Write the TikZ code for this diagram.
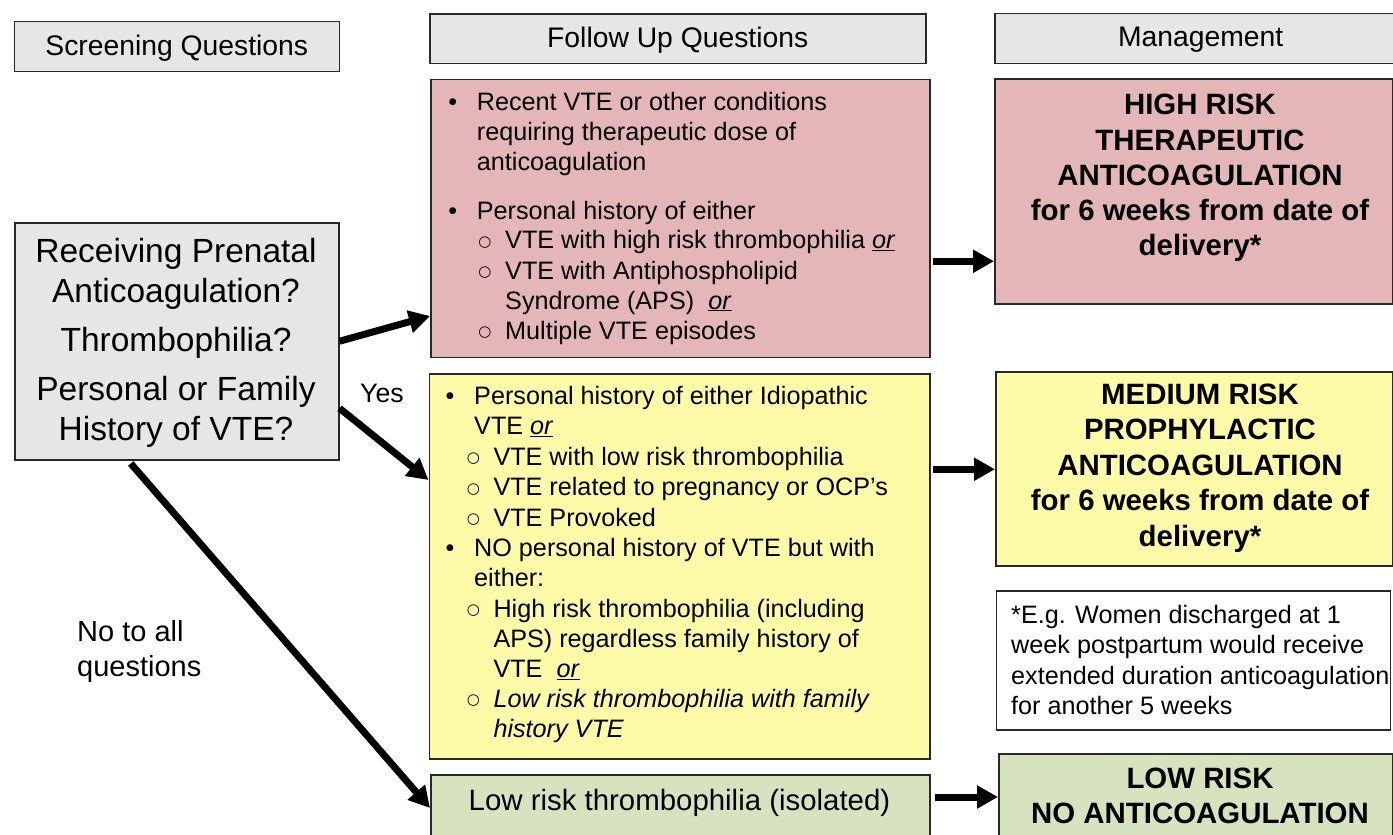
\documentclass[tikz,border=0pt]{standalone}
\usepackage{fontspec}
\setmainfont{Liberation Sans}
\newfontfamily\subbulfont{DejaVu Sans}
\usetikzlibrary{arrows.meta}
\definecolor{boxgray}{RGB}{230,230,230}
\definecolor{boxred}{RGB}{228,182,184}
\definecolor{boxyel}{RGB}{253,251,168}
\definecolor{boxgrn}{RGB}{215,227,191}
\definecolor{edgecol}{RGB}{40,40,40}
\newcommand{\oru}{\underline{\textit{or}}}
\begin{document}
\begin{tikzpicture}[x=1pt,y=-1pt,
  box/.style={draw=edgecol, line width=1.5pt, rectangle, inner sep=0pt, anchor=north west},
  hdr/.style={box, fill=boxgray, font=\fontsize{28.3}{34}\selectfont, text depth=2pt},
  tl/.style={anchor=base west, inner sep=0pt, font=\fontsize{25.2}{30}\selectfont},
  bl/.style={anchor=base, inner sep=0pt, font=\fontsize{25.2}{30}\selectfont},
  sb/.style={anchor=base, inner sep=0pt, font=\subbulfont\fontsize{15}{18}\selectfont},
  gq/.style={anchor=base, inner sep=0pt, font=\fontsize{33.5}{40}\selectfont},
  mg/.style={anchor=base, inner sep=0pt, font=\bfseries\fontsize{29.4}{35}\selectfont},
  lab/.style={anchor=base west, inner sep=0pt, font=\fontsize{29}{35}\selectfont},
  arr/.style={line width=7pt, -{Triangle[length=21pt,width=22pt]}}
]
\clip (0,0) rectangle (1393,835);
\fill[white] (0,0) rectangle (1393,835);

% headers
\node[hdr, minimum width=325pt, minimum height=50pt] (hdrS) at (13.5,20.5) {Screening Questions};
\node[hdr, minimum width=496pt, minimum height=49.5pt] (hdrF) at (429,13) {Follow Up Questions};
\node[hdr, minimum width=412pt, minimum height=50pt] (hdrM) at (994,12.5) {Management};

% boxes
\node[box, fill=boxgray, minimum width=324pt, minimum height=237pt] (gray) at (14,222) {};
\node[box, fill=boxred, minimum width=499pt, minimum height=278pt] (red) at (430,78.5) {};
\node[box, fill=boxyel, minimum width=500.5pt, minimum height=385pt] (yel) at (428.5,373) {};
\node[box, fill=boxgrn, minimum width=499pt, minimum height=90pt] (grn) at (430,774) {};
\node[box, fill=boxred, minimum width=398pt, minimum height=225pt] (high) at (994,78) {};
\node[box, fill=boxyel, minimum width=397pt, minimum height=194pt] (med) at (995,371) {};
\node[box, fill=white, minimum width=394pt, minimum height=139pt] (note) at (995.5,590) {};
\node[box, fill=boxgrn, minimum width=394pt, minimum height=100pt] (low) at (998,753) {};

% screening questions
\node[gq] (g1) at (176,262.7) {Receiving Prenatal};
\node[gq] (g2) at (176,302.3) {Anticoagulation?};
\node[gq] (g3) at (176,351.7) {Thrombophilia?};
\node[gq] (g4) at (176,400) {Personal or Family};
\node[gq] (g5) at (176,440) {History of VTE?};

% red follow-up
\node[bl] (rb1) at (452.7,110.7) {•};
\node[tl] (r1) at (476.7,110.7) {Recent VTE or other conditions};
\node[tl] (r2) at (476.7,140.7) {requiring therapeutic dose of};
\node[tl] (r3) at (476.7,170.7) {anticoagulation};
\node[bl] (rb2) at (452.7,219) {•};
\node[tl] (r4) at (476.7,219) {Personal history of either};
\node[sb] (rs1) at (485,246) {○};
\node[tl] (r5) at (505,248.5) {VTE with high risk thrombophilia \oru};
\node[sb] (rs2) at (485,276.5) {○};
\node[tl] (r6) at (505,279) {VTE with Antiphospholipid};
\node[tl] (r7) at (505,309) {Syndrome (APS)\ \ \oru};
\node[sb] (rs3) at (485,336.5) {○};
\node[tl] (r8) at (505,339) {Multiple VTE episodes};

% yellow follow-up
\node[bl] (yb1) at (450,404.3) {•};
\node[tl] (y1) at (474,404.3) {Personal history of either Idiopathic};
\node[tl] (y2) at (474,434.3) {VTE \oru};
\node[sb] (ys1) at (473.3,462.5) {○};
\node[tl] (y3) at (493.3,465) {VTE with low risk thrombophilia};
\node[sb] (ys2) at (473.3,493) {○};
\node[tl] (y4) at (493.3,495.5) {VTE related to pregnancy or OCP’s};
\node[sb] (ys3) at (473.3,523.5) {○};
\node[tl] (y5) at (493.3,526) {VTE Provoked};
\node[bl] (yb2) at (450,556.7) {•};
\node[tl] (y6) at (474,556.7) {NO personal history of VTE but with};
\node[tl] (y7) at (474,586.7) {either:};
\node[sb] (ys4) at (473.3,614.8) {○};
\node[tl] (y8) at (493.3,617.3) {High risk thrombophilia (including};
\node[tl] (y9) at (493.3,647.3) {APS) regardless family history of};
\node[tl] (y10) at (493.3,677.3) {VTE\ \ \oru};
\node[sb] (ys5) at (473.3,704.8) {○};
\node[tl] (y11) at (493.3,707.3) {\textit{Low risk thrombophilia with family}};
\node[tl] (y12) at (493.3,737.7) {\textit{history VTE}};

% green follow-up
\node[anchor=base, inner sep=0pt, font=\fontsize{29.4}{35}\selectfont] (gt) at (679.5,810) {Low risk thrombophilia (isolated)};

% management
\node[mg] (h1) at (1200,114.3) {HIGH RISK};
\node[mg] (h2) at (1200,150) {THERAPEUTIC};
\node[mg] (h3) at (1200,185.2) {ANTICOAGULATION};
\node[mg] (h4) at (1200,220.4) {for 6 weeks from date of};
\node[mg] (h5) at (1200,255.6) {delivery*};
\node[mg] (m1) at (1200,404) {MEDIUM RISK};
\node[mg] (m2) at (1200,439.5) {PROPHYLACTIC};
\node[mg] (m3) at (1200,475) {ANTICOAGULATION};
\node[mg] (m4) at (1200,510.5) {for 6 weeks from date of};
\node[mg] (m5) at (1200,546) {delivery*};
\node[mg] (l1) at (1200,788) {LOW RISK};
\node[mg] (l2) at (1200,823) {NO ANTICOAGULATION};

% note
\node[tl] (n1) at (1011,623) {*E.g. Women discharged at 1};
\node[tl] (n2) at (1011,653.5) {week postpartum would receive};
\node[tl] (n3) at (1011,684) {extended duration anticoagulation};
\node[tl] (n4) at (1011,714.5) {for another 5 weeks};

% labels
\node[anchor=base west, inner sep=0pt, font=\fontsize{26.7}{32}\selectfont] (yes) at (360,402) {Yes};
\node[lab] (no1) at (77,641) {No to all};
\node[lab] (no2) at (77,676.5) {questions};

% connectors
\draw[arr] (gray.east) -- ([yshift=42pt]red.south west);
\draw[arr] ([yshift=-67pt]gray.east) -- ([yshift=-107pt]yel.north west);
\draw[arr] ([xshift=-46pt,yshift=-3pt]gray.south) -- ([yshift=-34pt]grn.north west);
\draw[arr] ([xshift=2pt,yshift=-43pt]red.east) -- ([yshift=-43pt]red.east -| high.west);
\draw[arr] ([xshift=2pt,yshift=97pt]yel.east) -- ([yshift=97pt]yel.east -| med.west);
\draw[arr] ([xshift=4pt,yshift=-23pt]grn.north east) -- ([yshift=-23pt]grn.north east -| low.west);
\end{tikzpicture}
\end{document}
